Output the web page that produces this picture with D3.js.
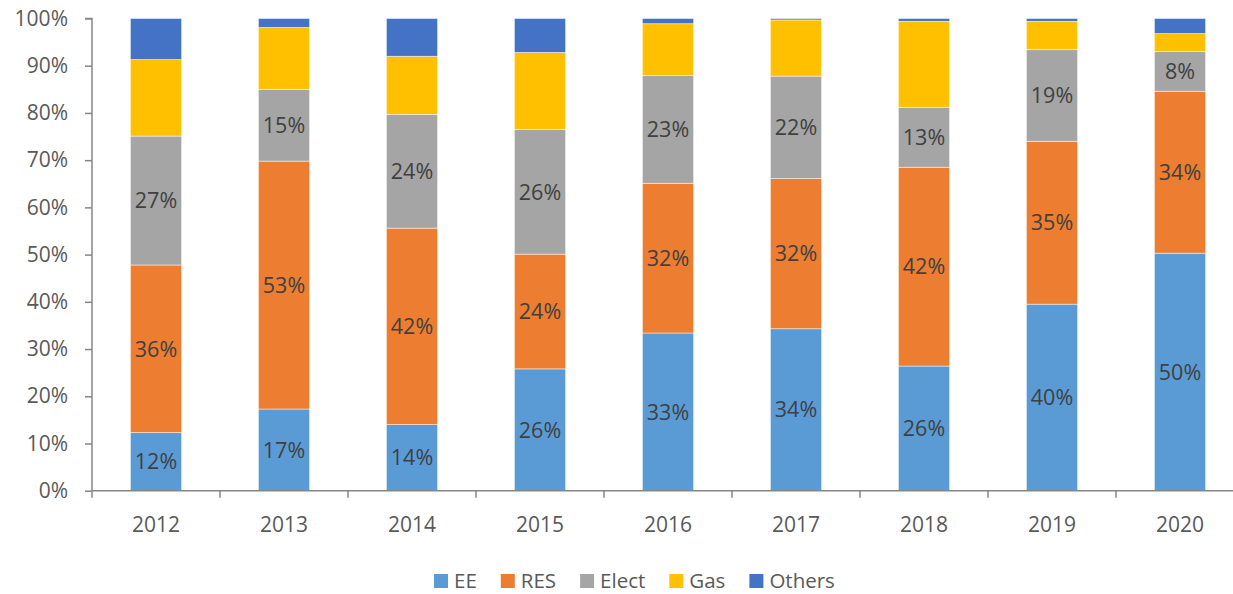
<!DOCTYPE html>
<html><head><meta charset="utf-8">
<script src="https://cdn.jsdelivr.net/npm/d3@7"></script>
<style>body{margin:0;background:#fff}svg{display:block}text{font-family:"Open Sans",sans-serif}</style>
</head><body><svg id="c" width="1233" height="594"></svg>
<script>
const years = ["2012","2013","2014","2015","2016","2017","2018","2019","2020"];
const seriesNames = ["EE","RES","Elect","Gas","Others"];
const EE     = [12.3, 17.3, 14.0, 25.8, 33.4, 34.3, 26.4, 39.5, 50.3];
const RES    = [35.5, 52.5, 41.6, 24.3, 31.7, 31.8, 42.1, 34.5, 34.3];
const Elect  = [27.3, 15.2, 24.1, 26.4, 22.8, 21.7, 12.7, 19.4, 8.4];
const Gas    = [16.2, 13.1, 12.3, 16.3, 11.0, 11.9, 18.2, 6.0, 3.8];
const Others = [8.7, 1.9, 8.0, 7.2, 1.1, 0.3, 0.6, 0.6, 3.2];
const yTicks = [0,10,20,30,40,50,60,70,80,90,100];
const labelled = ["EE","RES","Elect"];
const colors = {EE:"#5B9BD5",RES:"#ED7D31",Elect:"#A5A5A5",Gas:"#FFC000",Others:"#4472C4"};

const seriesVals = {EE, RES, Elect, Gas, Others};
const rows = years.map((y,i)=>{const r={year:y}; seriesNames.forEach(s=>r[s]=seriesVals[s][i]); return r;});
const stack = d3.stack().keys(seriesNames).offset(d3.stackOffsetExpand)(rows);

const svg = d3.select("#c");
const x = d3.scaleBand().domain(years).range([92,1244]).paddingInner(0.6).paddingOuter(0.3);
const y = d3.scaleLinear().domain([0,1]).range([490.7,18.5]);

// bars
const g = svg.append("g");
stack.forEach(layer=>{
  g.append("g").selectAll("rect").data(layer).join("rect")
    .attr("x", d=>x(d.data.year))
    .attr("width", x.bandwidth())
    .attr("y", d=>y(d[1]))
    .attr("height", d=>y(d[0])-y(d[1]))
    .attr("fill", colors[layer.key])
    .attr("stroke","#fff").attr("stroke-opacity",0.6).attr("stroke-width",0.8);
});

// labels
stack.filter(l=>labelled.includes(l.key)).forEach(layer=>{
  g.append("g").selectAll("text").data(layer).join("text")
    .attr("x", d=>x(d.data.year)+x.bandwidth()/2)
    .attr("y", d=>(y(d[0])+y(d[1]))/2)
    .attr("dy","0.36em")
    .attr("text-anchor","middle")
    .attr("font-size",21.5).attr("fill","#404040")
    .text(d=>Math.round(d.data[layer.key])+"%");
});

// y axis
const ya = svg.append("g").attr("transform","translate(92,0)")
  .call(d3.axisLeft(y).tickValues(yTicks.map(v=>v/100)).tickFormat(d=>Math.round(d*100)+"%").tickSize(7).tickPadding(17));
ya.select(".domain").attr("stroke","#868686").attr("stroke-width",1.5).attr("d","M-7,18.5H0V490.7");
ya.selectAll(".tick line").attr("stroke","#868686").attr("stroke-width",1.5);
ya.selectAll(".tick text").attr("font-size",21).attr("fill","#595959").attr("font-family","'Open Sans',sans-serif");

// x axis
const xb = d3.scaleLinear().domain([0,years.length]).range([92,1244]);
const xa = svg.append("g").attr("transform","translate(0,490.7)");
xa.append("line").attr("x1",92).attr("x2",1244).attr("stroke","#868686").attr("stroke-width",1.5);
xa.selectAll("line.t").data(d3.range(years.length+1)).join("line").attr("class","t")
  .attr("x1",d=>xb(d)).attr("x2",d=>xb(d)).attr("y1",0).attr("y2",7)
  .attr("stroke","#868686").attr("stroke-width",1.5);
xa.selectAll("text").data(years).join("text")
  .attr("x",d=>x(d)+x.bandwidth()/2).attr("y",41.5)
  .attr("text-anchor","middle").attr("font-size",21).attr("fill","#595959").text(d=>d);

// legend
const leg = svg.append("g").attr("transform","translate(434,580.5)");
let lx = 0;
seriesNames.forEach(s=>{
  const it = leg.append("g").attr("transform",`translate(${lx},0)`);
  it.append("rect").attr("x",0).attr("y",-6.5).attr("width",14).attr("height",14).attr("fill",colors[s]);
  const t = it.append("text").attr("x",20).attr("dy","0.36em").attr("font-size",20.5).attr("fill","#595959").text(s);
  lx += 20 + t.node().getComputedTextLength() + 24;
});
</script></body></html>
